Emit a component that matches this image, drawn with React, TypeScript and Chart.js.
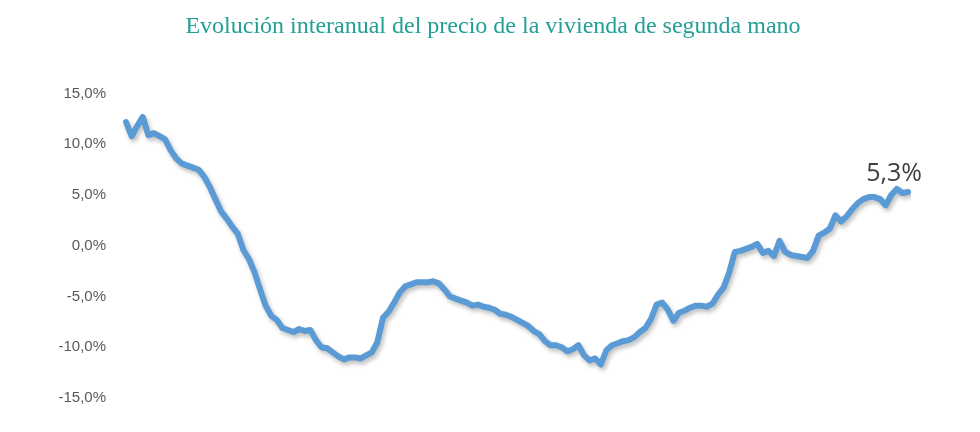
import React, { useEffect, useRef } from 'react';
import Chart from 'chart.js/auto';

// interannual change, % (monthly)
const values: number[] = [
  12.2, 10.8, 11.8, 12.7, 10.9, 11.1, 10.8, 10.5, 9.4, 8.6,
  8.1, 7.9, 7.7, 7.5, 6.8, 5.8, 4.6, 3.4, 2.7, 1.9,
  1.2, -0.4, -1.3, -2.6, -4.3, -5.9, -6.9, -7.3, -8.1, -8.3,
  -8.5, -8.2, -8.4, -8.3, -9.3, -10.0, -10.1, -10.5, -10.9, -11.2,
  -11.0, -11.0, -11.1, -10.8, -10.5, -9.5, -7.1, -6.5, -5.6, -4.6,
  -4.0, -3.8, -3.6, -3.6, -3.6, -3.5, -3.7, -4.3, -5.0, -5.2,
  -5.4, -5.6, -5.9, -5.8, -6.0, -6.1, -6.3, -6.7, -6.8, -7.0,
  -7.3, -7.6, -7.9, -8.4, -8.7, -9.4, -9.8, -9.8, -10.0, -10.4,
  -10.2, -9.8, -10.8, -11.3, -11.1, -11.7, -10.3, -9.8, -9.6, -9.4,
  -9.3, -9.0, -8.5, -8.1, -7.2, -5.8, -5.6, -6.3, -7.4, -6.6,
  -6.4, -6.1, -5.9, -5.9, -6.0, -5.7, -4.8, -4.1, -2.6, -0.6,
  -0.5, -0.3, -0.1, 0.2, -0.7, -0.5, -1.0, 0.5, -0.6, -0.9,
  -1.0, -1.1, -1.2, -0.5, 1.0, 1.3, 1.7, 3.0, 2.4, 2.9,
  3.6, 4.2, 4.6, 4.8, 4.8, 4.6, 4.0, 5.0, 5.6, 5.2,
  5.3,
];
const labels: string[] = values.map((_, i) => String(i));
const yTicks: number[] = [15, 10, 5, 0, -5, -10, -15];
const title = 'Evolución interanual del precio de la vivienda de segunda mano';
const lastLabel = '5,3%';

const fmt = (v: number) => v.toFixed(1).replace('.', ',') + '%';

const App: React.FC = () => {
  const canvasRef = useRef<HTMLCanvasElement>(null);

  useEffect(() => {
    if (!canvasRef.current) return;
    const ctx = canvasRef.current.getContext('2d');
    if (!ctx) return;

    // soft shadow under the line, like the Excel original
    const shadow = {
      id: 'lineShadow',
      beforeDatasetDraw(chart: any) {
        const c = chart.ctx;
        c.save();
        c.shadowColor = 'rgba(0,0,0,0.25)';
        c.shadowBlur = 4;
        c.shadowOffsetX = 2;
        c.shadowOffsetY = 3;
      },
      afterDatasetDraw(chart: any) {
        chart.ctx.restore();
      },
    };

    // value label next to the last point
    const endLabel = {
      id: 'endLabel',
      afterDatasetsDraw(chart: any) {
        const meta = chart.getDatasetMeta(0);
        const pt = meta.data[meta.data.length - 1];
        if (!pt) return;
        const c = chart.ctx;
        c.save();
        c.font = '25px "Open Sans", "Liberation Sans", sans-serif';
        c.fillStyle = '#404040';
        c.textAlign = 'center';
        c.textBaseline = 'bottom';
        c.fillText(lastLabel, pt.x - 14, pt.y - 6);
        c.restore();
      },
    };

    const chart = new Chart(ctx, {
      type: 'line',
      data: {
        labels,
        datasets: [
          {
            data: values,
            borderColor: '#5B9BD5',
            borderWidth: 6,
            pointRadius: 0,
            tension: 0,
            borderJoinStyle: 'round',
            borderCapStyle: 'round',
          },
        ],
      },
      options: {
        animation: false,
        responsive: true,
        maintainAspectRatio: false,
        layout: { padding: { left: 57, right: 72, top: 93.6, bottom: 34 } },
        scales: {
          x: { display: false },
          y: {
            min: -15,
            max: 15,
            border: { display: false },
            grid: { display: false, drawTicks: false },
            afterFit: (scale: any) => {
              scale.width = 69;
            },
            afterBuildTicks: (scale: any) => {
              scale.ticks = yTicks.map((v) => ({ value: v }));
            },
            ticks: {
              padding: 20,
              color: '#595959',
              font: { family: '"Liberation Sans", sans-serif', size: 15 },
              callback: (v: any) => fmt(Number(v)),
            },
          },
        },
        plugins: {
          legend: { display: false },
          tooltip: { enabled: false },
          title: { display: false },
        },
      },
      plugins: [shadow, endLabel],
    });

    return () => {
      chart.destroy();
    };
  }, []);

  return (
    <div style={{ position: 'fixed', left: 0, top: 0, width: 980, height: 432, background: '#fff' }}>
      <div
        style={{
          position: 'absolute',
          left: 3,
          top: 11,
          width: 980,
          textAlign: 'center',
          fontFamily: '"Liberation Serif", serif',
          fontSize: 24,
          lineHeight: '28.8px',
          color: '#22A096',
        }}
      >
        {title}
      </div>
      <canvas ref={canvasRef}></canvas>
    </div>
  );
};

export default App;
